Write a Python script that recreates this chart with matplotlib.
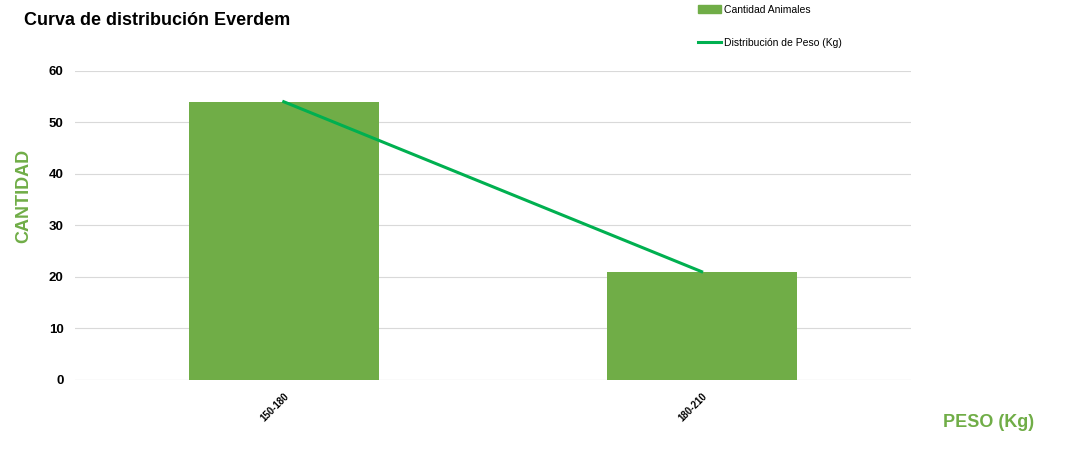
import matplotlib.pyplot as plt
from matplotlib.patches import Patch
from matplotlib.lines import Line2D

categories = ["150-180", "180-210"]
cantidad = [54, 21]
distribucion = [54, 21]

plt.rcParams['font.family'] = ['Liberation Sans', 'DejaVu Sans']

fig = plt.figure(figsize=(10.84, 4.66), dpi=100)
ax = fig.add_axes([0.069, 0.185, 0.771, 0.663])

x = range(len(categories))
ax.bar(x, cantidad, width=0.455, color="#70AD47", zorder=2)
ax.plot(x, distribucion, color="#00B050", linewidth=2.2, zorder=3)

ax.set_xlim(-0.5, 1.5)
ax.set_ylim(0, 60)
ax.set_yticks(range(0, 61, 10))
ax.set_xticks(list(x))
ax.set_xticklabels(categories, rotation=45, ha="right", rotation_mode="anchor",
                   fontsize=7, fontweight="bold")
for lbl in ax.get_yticklabels():
    lbl.set_fontweight("bold")
    lbl.set_fontsize(9.5)
ax.tick_params(length=0, pad=8)
ax.grid(axis="y", color="#d9d9d9", linewidth=0.8, zorder=0)
for s in ax.spines.values():
    s.set_visible(False)
ax.axhline(0, color="#d9d9d9", linewidth=0.8, zorder=1)

fig.text(0.022, 0.955, "Curva de distribución Everdem", fontsize=13,
         fontweight="bold", va="center")
fig.text(0.022, 0.58, "CANTIDAD", rotation=90, fontsize=13, fontweight="bold",
         color="#70AD47", va="center", ha="center")
fig.text(0.912, 0.093, "PESO (Kg)", fontsize=13, fontweight="bold",
         color="#70AD47", va="center", ha="center")

handles = [Patch(color="#70AD47", label="Cantidad Animales"),
           Line2D([0], [0], color="#00B050", linewidth=2.2,
                  label="Distribución de Peso (Kg)")]
fig.legend(handles=handles, loc="upper left", bbox_to_anchor=(0.635, 1.01),
           frameon=False, fontsize=7.5, labelspacing=2.2, handlelength=2.2,
           handletextpad=0.3)

fig.savefig("out.png", dpi=100)
